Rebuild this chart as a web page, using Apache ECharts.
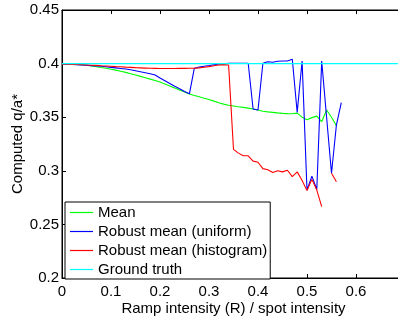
<!DOCTYPE html>
<html><head><meta charset="utf-8">
<script src="https://cdn.jsdelivr.net/npm/echarts@6/dist/echarts.min.js"></script>
<style>html,body{margin:0;padding:0;background:#fff}#c{width:398px;height:320px}</style>
</head><body><div id="c"></div>
<script>
var xs = [0,0.01,0.02,0.03,0.04,0.05,0.06,0.07,0.08,0.09,0.10,0.11,0.12,0.13,0.14,0.15,0.16,0.17,0.18,0.19,0.20,0.21,0.22,0.23,0.24,0.25,0.26,0.27,0.28,0.29,0.30,0.31,0.32,0.33,0.34,0.35,0.36,0.37,0.38,0.39,0.40,0.41,0.42,0.43,0.44,0.45,0.46,0.47,0.48,0.49,0.50,0.51,0.52,0.53,0.54,0.55,0.56,0.57];
var meanY = [0.4000,0.3998,0.3996,0.3993,0.3989,0.3984,0.3978,0.3971,0.3963,0.3956,0.3948,0.3939,0.3929,0.3918,0.3906,0.3894,0.3881,0.3868,0.3855,0.3842,0.3828,0.3810,0.3792,0.3773,0.3754,0.3735,0.3716,0.3703,0.3690,0.3677,0.3665,0.3650,0.3635,0.3622,0.3612,0.3605,0.3598,0.3592,0.3585,0.3577,0.3567,0.3556,0.3550,0.3545,0.3540,0.3536,0.3533,0.3532,0.3538,0.3500,0.3476,0.3496,0.3510,0.3458,0.3567,0.3500,0.3420,null];
var uniformY = [0.3995,0.3994,0.3992,0.3990,0.3987,0.3984,0.3981,0.3978,0.3975,0.3970,0.3965,0.3960,0.3955,0.3950,0.3942,0.3933,0.3924,0.3915,0.3906,0.3893,0.3865,0.3840,0.3815,0.3788,0.3765,0.3740,0.3718,0.3956,0.3968,0.3975,0.3982,0.3990,0.3995,0.3999,0.4002,0.4003,0.4003,0.4003,0.4003,0.3577,0.3567,0.4003,0.4018,0.4012,0.4022,0.4024,0.4024,0.4040,0.3545,0.4024,0.2820,0.2950,0.2825,0.4024,0.3500,0.2977,0.3427,0.3635];
var histY = [0.3995,0.3994,0.3993,0.3991,0.3989,0.3987,0.3985,0.3983,0.3980,0.3978,0.3975,0.3972,0.3970,0.3967,0.3965,0.3962,0.3960,0.3958,0.3956,0.3955,0.3954,0.3954,0.3954,0.3954,0.3955,0.3955,0.3956,0.3957,0.3960,0.3966,0.3972,0.3980,0.3988,0.3990,0.3987,0.3200,0.3165,0.3140,0.3140,0.3090,0.3080,0.3020,0.3010,0.2985,0.3000,0.2990,0.3005,0.2945,0.2990,0.2910,0.2815,0.2920,0.2820,0.2665,null,0.2977,0.2898,null];
var truthX = [0, 0.7];
var truthY = [0.4, 0.4];
var names = ['Mean','Robust mean (uniform)','Robust mean (histogram)','Ground truth'];
var colors = ['#00ff00','#0000ff','#ff0000','#00ffff'];

function pairs(x, y){ var o=[]; for(var i=0;i<x.length;i++){ o.push([x[i], y[i]]); } return o; }

var font = 'Liberation Sans, Arial, Helvetica, sans-serif';
var chart = echarts.init(document.getElementById('c'), null, {renderer:'canvas'});
var seriesY = [meanY, uniformY, histY];
var series = [];
for (var k=0;k<3;k++){
  series.push({name:names[k], type:'line', data:pairs(xs, seriesY[k]), symbol:'none', showSymbol:false, connectNulls:false,
    lineStyle:{color:colors[k], width:1.1}, itemStyle:{color:colors[k]}, animation:false, z:2+k});
}
series.push({name:names[3], type:'line', data:pairs(truthX, truthY), symbol:'none', showSymbol:false,
  lineStyle:{color:colors[3], width:1.3}, itemStyle:{color:colors[3]}, animation:false, z:6});

var lineIcon = 'path://M0,0 L23,0 L23,1.2 L0,1.2 Z';

chart.setOption({
  animation:false,
  backgroundColor:'#fff',
  textStyle:{fontFamily:font},
  grid:{left:62, top:10, right:-7, bottom:42, outerBoundsMode:'none', containLabel:false,
    show:true, borderColor:'#000', borderWidth:1, backgroundColor:'transparent'},
  legend:{
    data:names.map(function(n){ return {name:n, icon:lineIcon}; }),
    orient:'vertical', left:65, top:202, backgroundColor:'#fff', borderColor:'#000', borderWidth:1,
    padding:[3,3,2,5], itemGap:4, itemWidth:23, itemHeight:14, symbolKeepAspect:true,
    textStyle:{fontSize:15, color:'#000', fontFamily:font}
  },
  xAxis:[{
    type:'value', min:0, max:0.7, interval:0.1, position:'bottom',
    name:'Ramp intensity (R) / spot intensity', nameLocation:'middle', nameGap:23, nameMoveOverlap:false,
    nameTextStyle:{fontSize:15, color:'#000', fontFamily:font},
    axisLine:{show:true, lineStyle:{color:'#000', width:1}},
    axisTick:{show:true, inside:true, length:4, lineStyle:{color:'#000'}},
    axisLabel:{fontSize:15, color:'#000', margin:6, showMaxLabel:false, fontFamily:font},
    splitLine:{show:false}
  },{
    type:'value', min:0, max:0.7, interval:0.1, position:'top',
    axisLine:{show:true, lineStyle:{color:'#000', width:1}},
    axisTick:{show:true, inside:true, length:4, lineStyle:{color:'#000'}},
    axisLabel:{show:false}, splitLine:{show:false}
  }],
  yAxis:{
    type:'value', min:0.2, max:0.45, interval:0.05,
    name:'Computed q/a*', nameLocation:'middle', nameGap:37, nameMoveOverlap:false,
    nameTextStyle:{fontSize:15, color:'#000', fontFamily:font},
    axisLine:{show:true, lineStyle:{color:'#000', width:1}},
    axisTick:{show:true, inside:true, length:4, lineStyle:{color:'#000'}},
    axisLabel:{fontSize:15, color:'#000', margin:3, fontFamily:font},
    splitLine:{show:false}
  },
  series:series
});
</script></body></html>
